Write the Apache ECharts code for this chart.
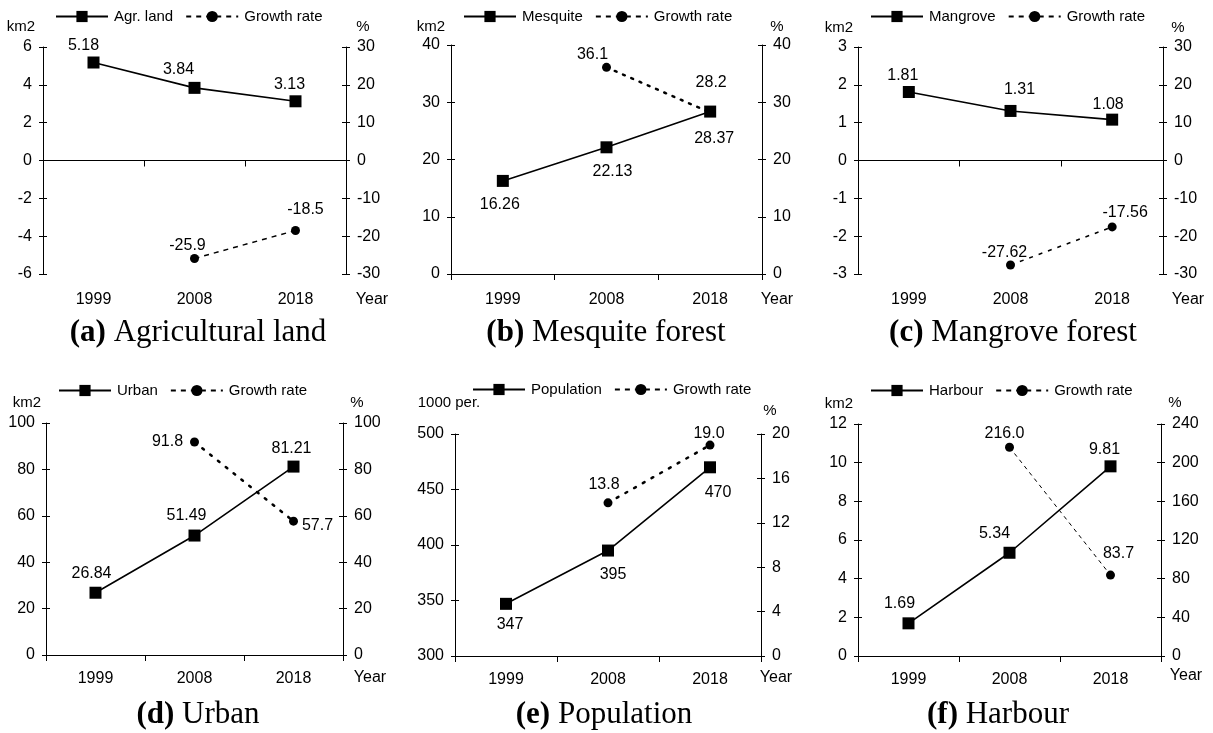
<!DOCTYPE html>
<html>
<head>
<meta charset="utf-8">
<script src="https://cdn.jsdelivr.net/npm/echarts@6/dist/echarts.min.js"></script>
<style>html,body{margin:0;padding:0;background:#fff}#c{width:1213px;height:733px}</style>
</head>
<body>
<div id="c"></div>
<script>
// ---- data ----
const years = ['1999', '2008', '2018'];
const agrLand = [5.18, 3.84, 3.13];
const agrGrowth = ['-', -25.9, -18.5];
const mesquite = [16.26, 22.13, 28.37];
const mesquiteGrowth = ['-', 36.1, 28.2];
const mangrove = [1.81, 1.31, 1.08];
const mangroveGrowth = ['-', -27.62, -17.56];
const urban = [26.84, 51.49, 81.21];
const urbanGrowth = ['-', 91.8, 57.7];
const population = [347, 395, 470];
const populationGrowth = ['-', 13.8, 19.0];
const harbour = [1.69, 5.34, 9.81];
const harbourGrowth = ['-', 216.0, 83.7];
// axis ranges [min, max, interval]
const leftTicks = [[-6, 6, 2], [0, 40, 10], [-3, 3, 1], [0, 100, 20], [300, 500, 50], [0, 12, 2]];
const rightTicks = [[-30, 30, 10], [0, 40, 10], [-30, 30, 10], [0, 100, 20], [0, 20, 4], [0, 240, 40]];
const seriesNames = ['Agr. land', 'Mesquite', 'Mangrove', 'Urban', 'Population', 'Harbour'];
const growthName = 'Growth rate';
const leftUnits = ['km2', 'km2', 'km2', 'km2', '1000 per.', 'km2'];
const rightUnit = '%';
const yearName = 'Year';
const captionTags = ['(a)', '(b)', '(c)', '(d)', '(e)', '(f)'];
const captionTexts = ['Agricultural land', 'Mesquite forest', 'Mangrove forest', 'Urban', 'Population', 'Harbour'];
const mainValues = [agrLand, mesquite, mangrove, urban, population, harbour];
const growthValues = [agrGrowth, mesquiteGrowth, mangroveGrowth, urbanGrowth, populationGrowth, harbourGrowth];

// ---- layout / styles ----
const SANS = 'Liberation Sans';
const SERIF = 'Liberation Serif';
const FS = 16;
const layout = [
  {grid: {left: 43, top: 47, width: 303, height: 227}, legend: {left: 55, top: 9}, dec: [2, 1],
   dash: {type: [5, 5], width: 1.5}, vOff: [[-10, -17], [-16, -18], [-6, -17]], gOff: [null, [-7, -13], [10, -21]],
   unitL: [21, 27], unitR: [363, 27], cap: [198, 333], year: [372, 300], xMargin: 18},
  {grid: {left: 451, top: 45, width: 311, height: 229}, legend: {left: 463, top: 9}, dec: [2, 1],
   dash: {type: [2, 7], width: 2.5, cap: 'round'}, vOff: [[-3, 24], [6, 24], [4, 27]], gOff: [null, [-14, -13], [1, -30]],
   unitL: [431, 27], unitR: [777, 27], cap: [606, 333], year: [777, 300], xMargin: 18},
  {grid: {left: 858, top: 47, width: 305, height: 227}, legend: {left: 870, top: 9}, dec: [2, 2],
   dash: {type: [4, 6], width: 1.5}, vOff: [[-6, -16], [9, -21], [-4, -15]], gOff: [null, [-6, -12], [13, -14]],
   unitL: [839, 28], unitR: [1178, 28], cap: [1013, 333], year: [1188, 300], xMargin: 18},
  {grid: {left: 46, top: 423, width: 297, height: 232}, legend: {left: 58, top: 383}, dec: [2, 1],
   dash: {type: [2, 8], width: 2.5, cap: 'round'}, vOff: [[-4, -19], [-8, -20], [-2, -18]], gOff: [null, [-27, 0], [24, 4]],
   unitL: [27, 403], unitR: [357, 403], cap: [198, 715], year: [370, 678], xMargin: 16},
  {grid: {left: 455, top: 434, width: 306, height: 222}, legend: {left: 472, top: 382}, dec: [0, 1],
   dash: {type: [2, 8], width: 2.5, cap: 'round'}, vOff: [[4, 21], [5, 24], [8, 25]], gOff: [null, [-4, -18], [-1, -12]],
   unitL: [449, 403], unitR: [770, 411], cap: [604, 715], year: [776, 678], xMargin: 16},
  {grid: {left: 858, top: 424, width: 303, height: 232}, legend: {left: 870, top: 383}, dec: [2, 1],
   dash: {type: [4, 4], width: 1}, vOff: [[-9, -20], [-15, -19], [-6, -17]], gOff: [null, [-5, -14], [8, -21]],
   unitL: [839, 404], unitR: [1175, 403], cap: [998, 715], year: [1186, 676], xMargin: 16}
];

const grid = [], xAxis = [], yAxis = [], series = [], legend = [], graphic = [];
const labelStyle = {color: '#000', fontSize: FS, fontFamily: SANS};
function yAx(g, pos, r, helper) {
  return {
    type: 'value', gridIndex: g, position: pos, min: r[0], max: r[1], interval: r[2],
    splitLine: {show: false},
    axisLine: {show: !helper, onZero: false, lineStyle: {color: '#000', width: 1}},
    axisTick: {show: true, inside: helper, length: 4, lineStyle: {color: '#000', width: 1}},
    axisLabel: {show: !helper, margin: 11, ...labelStyle}
  };
}
layout.forEach((L, i) => {
  grid.push({...L.grid, containLabel: false});
  xAxis.push({
    type: 'category', gridIndex: i, position: 'bottom', data: years, boundaryGap: true,
    axisLine: {show: false, onZero: false}, axisTick: {show: false},
    axisLabel: {margin: L.xMargin, ...labelStyle}
  });
  xAxis.push({
    type: 'category', gridIndex: i, position: 'bottom', data: years, boundaryGap: true,
    axisLine: {show: true, onZero: true, lineStyle: {color: '#000', width: 1}},
    axisTick: {show: true, inside: false, length: 6, alignWithLabel: false, lineStyle: {color: '#000', width: 1}},
    axisLabel: {show: false}
  });
  yAxis.push(yAx(i, 'left', leftTicks[i], false));
  yAxis.push(yAx(i, 'left', leftTicks[i], true));
  yAxis.push(yAx(i, 'right', rightTicks[i], false));
  yAxis.push(yAx(i, 'right', rightTicks[i], true));

  const d0 = L.dec[0], d1 = L.dec[1];
  series.push({
    type: 'line', name: seriesNames[i], xAxisIndex: 2 * i, yAxisIndex: 4 * i,
    symbol: 'rect', symbolSize: 12, color: '#000',
    lineStyle: {color: '#000', width: 1.6, type: 'solid'},
    itemStyle: {color: '#000'},
    label: {show: true, position: 'inside', ...labelStyle, formatter: p => Number(p.value).toFixed(d0)},
    data: mainValues[i].map((v, j) => ({value: v, label: {offset: L.vOff[j]}})),
    z: 3
  });
  series.push({
    type: 'line', name: growthName, xAxisIndex: 2 * i, yAxisIndex: 4 * i + 2,
    symbol: 'circle', symbolSize: 9, color: '#000',
    lineStyle: {color: '#000', width: L.dash.width, type: L.dash.type, cap: L.dash.cap || 'butt'},
    itemStyle: {color: '#000'},
    label: {show: true, position: 'inside', ...labelStyle, formatter: p => Number(p.value).toFixed(d1)},
    data: growthValues[i].map((v, j) => (L.gOff[j] ? {value: v, label: {offset: L.gOff[j]}} : v)),
    z: 4
  });
  legend.push({
    left: L.legend.left, top: L.legend.top, orient: 'horizontal',
    itemWidth: 52, itemHeight: 14, itemGap: 12, padding: 0,
    data: [seriesNames[i], growthName],
    textStyle: {color: '#000', fontSize: 15, fontFamily: SANS, padding: [0, 0, 0, 1]},
    selectedMode: false
  });
  graphic.push({type: 'text', x: L.unitL[0], y: L.unitL[1],
    style: {text: leftUnits[i], fill: '#000', font: '15px ' + SANS, textAlign: 'center', textVerticalAlign: 'middle'}});
  graphic.push({type: 'text', x: L.unitR[0], y: L.unitR[1],
    style: {text: rightUnit, fill: '#000', font: '15px ' + SANS, textAlign: 'center', textVerticalAlign: 'middle'}});
  graphic.push({type: 'text', x: L.year[0], y: L.year[1],
    style: {text: yearName, fill: '#000', font: FS + 'px ' + SANS, textAlign: 'center', textVerticalAlign: 'middle'}});
  graphic.push({type: 'text', x: L.cap[0], y: L.cap[1],
    style: {text: '{b|' + captionTags[i] + '} ' + captionTexts[i], fill: '#000',
      font: '31px ' + SERIF, textAlign: 'center', textVerticalAlign: 'middle',
      rich: {b: {fontWeight: 'bold', fontSize: 31, fontFamily: SERIF, fill: '#000'}}}});
});

const chart = echarts.init(document.getElementById('c'), null, {renderer: 'canvas'});
chart.setOption({
  animation: false,
  backgroundColor: '#fff',
  grid, xAxis, yAxis, series, legend, graphic
});
</script>
</body>
</html>
